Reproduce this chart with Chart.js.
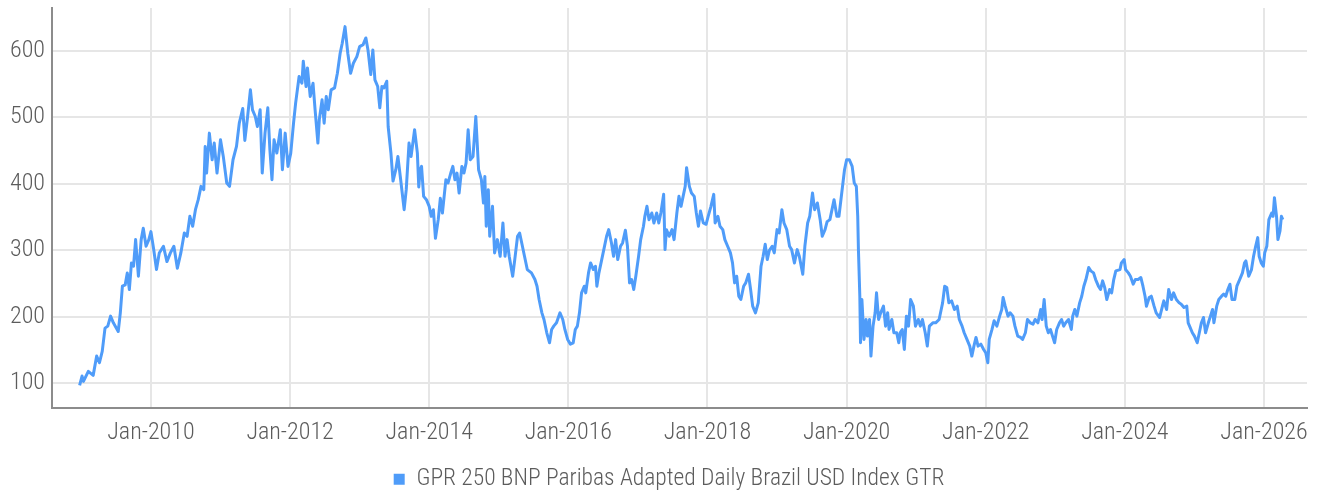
<!DOCTYPE html>
<html><head><meta charset="utf-8">
<script src="https://cdn.jsdelivr.net/npm/chart.js@4.4.1/dist/chart.umd.min.js"></script>
<style>html,body{margin:0;padding:0;background:#fff;}#wrap{width:1321px;height:493px;position:relative;}</style>
</head><body><div id="wrap"><canvas id="c"></canvas></div>
<script>
const seriesLabel = 'GPR 250 BNP Paribas Adapted Daily Brazil USD Index GTR';
const xTickYears = [2010, 2012, 2014, 2016, 2018, 2020, 2022, 2024, 2026];
const yTickValues = [100, 200, 300, 400, 500, 600];
// decimal years
const years = [
2008.975,2009.01,2009.03,2009.10,2009.17,2009.22,2009.26,2009.30,2009.34,2009.38,2009.42,2009.46,2009.53,2009.56,2009.59,2009.63,2009.66,2009.69,2009.72,2009.75,2009.78,2009.82,2009.86,2009.89,2009.93,2009.97,
2010.00,2010.04,2010.08,2010.12,2010.18,2010.23,2010.28,2010.33,2010.38,2010.43,2010.48,2010.52,2010.56,2010.60,2010.64,2010.68,2010.72,2010.76,2010.78,2010.80,2010.84,2010.88,2010.91,2010.95,
2011.00,2011.04,2011.09,2011.13,2011.18,2011.23,2011.27,2011.32,2011.35,2011.39,2011.43,2011.46,2011.50,2011.53,2011.57,2011.60,2011.64,2011.68,2011.71,2011.74,2011.77,2011.81,2011.86,2011.89,2011.93,2011.97,
2012.01,2012.05,2012.08,2012.13,2012.17,2012.19,2012.23,2012.25,2012.29,2012.33,2012.36,2012.40,2012.42,2012.46,2012.49,2012.52,2012.55,2012.59,2012.64,2012.68,2012.72,2012.75,2012.79,2012.83,2012.87,2012.91,2012.96,
2013.00,2013.05,2013.09,2013.12,2013.16,2013.19,2013.22,2013.26,2013.29,2013.32,2013.35,2013.39,2013.41,2013.45,2013.48,2013.52,2013.55,2013.59,2013.64,2013.67,2013.71,2013.74,2013.79,2013.83,2013.85,2013.87,2013.89,2013.92,2013.96,
2014.00,2014.03,2014.06,2014.09,2014.13,2014.16,2014.19,2014.24,2014.27,2014.31,2014.34,2014.37,2014.40,2014.43,2014.47,2014.50,2014.53,2014.56,2014.59,2014.63,2014.67,2014.69,2014.71,2014.75,2014.78,2014.80,2014.82,2014.85,2014.87,2014.91,2014.94,2014.98,
2015.02,2015.06,2015.09,2015.12,2015.15,2015.20,2015.23,2015.27,2015.30,2015.34,2015.37,2015.41,2015.47,2015.52,2015.55,2015.58,2015.62,2015.65,2015.69,2015.73,2015.76,2015.79,2015.83,2015.88,2015.92,2015.95,2015.99,
2016.03,2016.07,2016.10,2016.13,2016.16,2016.19,2016.23,2016.25,2016.29,2016.32,2016.36,2016.39,2016.41,2016.44,2016.48,2016.51,2016.55,2016.58,2016.62,2016.65,2016.68,2016.71,2016.75,2016.78,2016.82,2016.85,2016.88,2016.91,2016.94,2016.97,
2017.01,2017.04,2017.08,2017.10,2017.13,2017.16,2017.20,2017.23,2017.27,2017.30,2017.33,2017.37,2017.39,2017.41,2017.45,2017.49,2017.52,2017.56,2017.59,2017.62,2017.65,2017.68,2017.70,2017.74,2017.77,2017.81,2017.84,2017.87,2017.90,2017.94,2017.98,
2018.01,2018.05,2018.09,2018.11,2018.15,2018.18,2018.22,2018.25,2018.29,2018.33,2018.36,2018.39,2018.42,2018.45,2018.48,2018.52,2018.55,2018.59,2018.62,2018.65,2018.69,2018.73,2018.77,2018.80,2018.83,2018.86,2018.89,2018.93,2018.96,
2019.00,2019.03,2019.07,2019.10,2019.14,2019.18,2019.21,2019.25,2019.29,2019.32,2019.37,2019.40,2019.44,2019.47,2019.51,2019.54,2019.58,2019.62,2019.65,2019.69,2019.72,2019.76,2019.79,2019.82,2019.86,2019.89,2019.93,2019.97,
2020.00,2020.04,2020.08,2020.11,2020.14,2020.16,2020.17,2020.19,2020.20,2020.22,2020.25,2020.28,2020.30,2020.33,2020.35,2020.38,2020.41,2020.43,2020.46,2020.49,2020.53,2020.56,2020.59,2020.61,2020.65,2020.68,2020.72,2020.75,2020.77,2020.80,2020.83,2020.86,2020.89,2020.92,2020.96,2020.99,
2021.03,2021.06,2021.09,2021.13,2021.16,2021.19,2021.24,2021.28,2021.33,2021.36,2021.38,2021.41,2021.44,2021.47,2021.51,2021.55,2021.59,2021.62,2021.66,2021.69,2021.73,2021.77,2021.80,2021.83,2021.86,2021.89,2021.93,2021.97,
2022.00,2022.03,2022.05,2022.09,2022.12,2022.16,2022.20,2022.23,2022.25,2022.28,2022.32,2022.35,2022.39,2022.42,2022.46,2022.50,2022.53,2022.57,2022.60,2022.64,2022.68,2022.71,2022.75,2022.79,2022.81,2022.84,2022.87,2022.90,2022.93,2022.96,2022.99,
2023.02,2023.06,2023.09,2023.12,2023.15,2023.19,2023.23,2023.25,2023.28,2023.31,2023.35,2023.38,2023.41,2023.44,2023.48,2023.51,2023.55,2023.58,2023.62,2023.65,2023.68,2023.71,2023.74,2023.78,2023.81,2023.84,2023.87,2023.93,2023.95,2023.99,
2024.01,2024.05,2024.08,2024.12,2024.15,2024.19,2024.23,2024.26,2024.29,2024.31,2024.35,2024.38,2024.42,2024.45,2024.50,2024.54,2024.56,2024.60,2024.63,2024.67,2024.70,2024.74,2024.78,2024.81,2024.85,2024.89,2024.91,2024.93,2024.97,
2025.00,2025.04,2025.07,2025.10,2025.13,2025.16,2025.20,2025.23,2025.26,2025.28,2025.32,2025.35,2025.39,2025.42,2025.45,2025.48,2025.51,2025.54,2025.58,2025.61,2025.65,2025.69,2025.72,2025.74,2025.78,2025.82,2025.85,2025.88,2025.91,2025.93,2025.96,2025.99,
2026.01,2026.04,2026.07,2026.11,2026.13,2026.15,2026.18,2026.20,2026.23,2026.25,2026.27
];
const values = [
97,111,103,118,112,141,131,148,183,186,201,191,178,206,246,248,266,241,281,276,316,261,316,333,306,316,
328,301,271,296,306,283,296,306,273,296,326,321,351,336,361,376,396,391,456,416,476,436,461,416,
466,441,401,396,436,456,491,513,465,501,541,511,501,486,511,416,476,514,451,406,466,446,481,421,476,426,
446,491,521,561,551,584,546,574,531,551,511,461,496,526,491,531,511,541,544,566,596,611,636,596,566,581,591,
606,609,619,601,564,601,556,546,514,546,544,554,486,446,404,421,441,406,361,391,461,441,481,446,395,421,426,381,376,
366,351,361,318,346,378,356,406,401,416,426,406,416,386,426,416,431,481,436,441,501,461,421,406,371,411,336,391,321,366,296,316,
291,341,291,316,291,261,286,321,326,306,291,271,266,256,246,226,206,196,176,161,181,186,191,206,196,181,166,
159,161,181,186,206,236,246,236,266,281,271,276,246,266,286,301,321,331,311,291,316,286,306,311,330,306,251,256,241,261,
291,316,336,351,366,346,356,341,356,341,356,384,301,331,321,331,316,356,381,366,381,396,424,396,386,381,356,336,359,341,339,
351,366,384,341,351,336,331,316,306,296,281,251,261,231,226,246,251,264,241,216,206,221,276,291,309,286,300,306,296,
331,326,361,341,331,306,301,281,301,291,264,306,341,351,386,361,371,346,321,331,343,346,361,376,351,351,386,421,
436,436,426,401,396,351,301,231,161,226,166,196,171,196,141,186,206,236,196,206,216,186,206,181,196,176,176,161,176,181,151,201,186,226,216,186,
196,186,196,176,156,186,191,191,196,211,221,246,244,221,224,211,216,196,186,176,166,156,141,156,169,156,159,151,
146,131,166,181,194,186,201,211,229,216,201,206,201,186,171,169,166,176,196,191,189,196,191,211,196,226,186,176,181,171,161,
181,191,196,186,191,196,181,201,211,201,221,231,246,256,274,269,266,256,246,241,254,244,226,241,236,256,269,271,281,286,
271,266,261,249,256,256,259,246,231,216,229,231,216,206,199,216,224,211,241,226,236,226,221,219,214,216,191,186,176,
171,161,176,191,199,176,191,201,211,191,216,226,231,234,231,241,249,226,226,246,256,266,281,284,261,271,291,306,319,291,281,276,
296,306,346,356,351,379,351,316,329,351,346
];
const xMin = 2008.578, xMax = 2026.618;
const yMin = 63, yMax = 664;

const LINE_COLOR = '#4f9cf9';
const TEXT_COLOR = '#5c5c5c';
const FONT_FAMILY = "'Liberation Sans Narrow', 'Roboto Condensed', 'DejaVu Sans Condensed', Roboto, sans-serif";
const FONT_WEIGHT = 300;

const points = years.map((x, i) => ({x: x, y: values[i]}));

// nudge the legend block to sit where the reference has it
const legendNudge = {
  id: 'legendNudge',
  afterLayout(chart) {
    const l = chart.legend;
    if (!l) return;
    l.left += 8.5; l.right += 8.5;
    l.top += 8; l.bottom += 8;
  }
};

new Chart(document.getElementById('c'), {
  type: 'line',
  data: { datasets: [{
    label: seriesLabel,
    data: points,
    borderColor: LINE_COLOR,
    backgroundColor: LINE_COLOR,
    borderWidth: 3,
    pointRadius: 0,
    tension: 0,
    borderJoinStyle: 'round'
  }]},
  plugins: [legendNudge],
  options: {
    animation: false,
    responsive: true,
    maintainAspectRatio: false,
    layout: { padding: { top: 8, right: 0, left: 0, bottom: 0 } },
    plugins: {
      tooltip: { enabled: false },
      legend: {
        position: 'bottom',
        labels: {
          boxWidth: 11, boxHeight: 11, padding: 2,
          color: TEXT_COLOR,
          font: { family: FONT_FAMILY, size: 23.5, weight: FONT_WEIGHT },
          generateLabels: () => [{ text: seriesLabel, fillStyle: LINE_COLOR, strokeStyle: LINE_COLOR, lineWidth: 0, hidden: false, datasetIndex: 0, fontColor: TEXT_COLOR }]
        }
      }
    },
    scales: {
      x: {
        type: 'linear', min: xMin, max: xMax,
        afterBuildTicks: s => { s.ticks = xTickYears.map(v => ({ value: v })); },
        afterFit: s => { s.height = 49.5; s.paddingLeft = 0; s.paddingRight = 14; },
        ticks: { callback: v => 'Jan-' + v, color: TEXT_COLOR, font: { family: FONT_FAMILY, size: 24, weight: FONT_WEIGHT }, padding: 11, maxRotation: 0, autoSkip: false },
        grid: { color: '#e6e6e6', lineWidth: 2, drawTicks: false },
        border: { color: '#8c8c8c', width: 2 }
      },
      y: {
        min: yMin, max: yMax,
        afterBuildTicks: s => { s.ticks = yTickValues.map(v => ({ value: v })); },
        afterFit: s => { s.width = 52; s.paddingTop = 0; s.paddingBottom = 0; },
        ticks: { color: TEXT_COLOR, font: { family: FONT_FAMILY, size: 24, weight: FONT_WEIGHT }, padding: 7 },
        grid: { color: '#e6e6e6', lineWidth: 2, drawTicks: false },
        border: { color: '#8c8c8c', width: 2 }
      }
    }
  }
});
</script></body></html>
